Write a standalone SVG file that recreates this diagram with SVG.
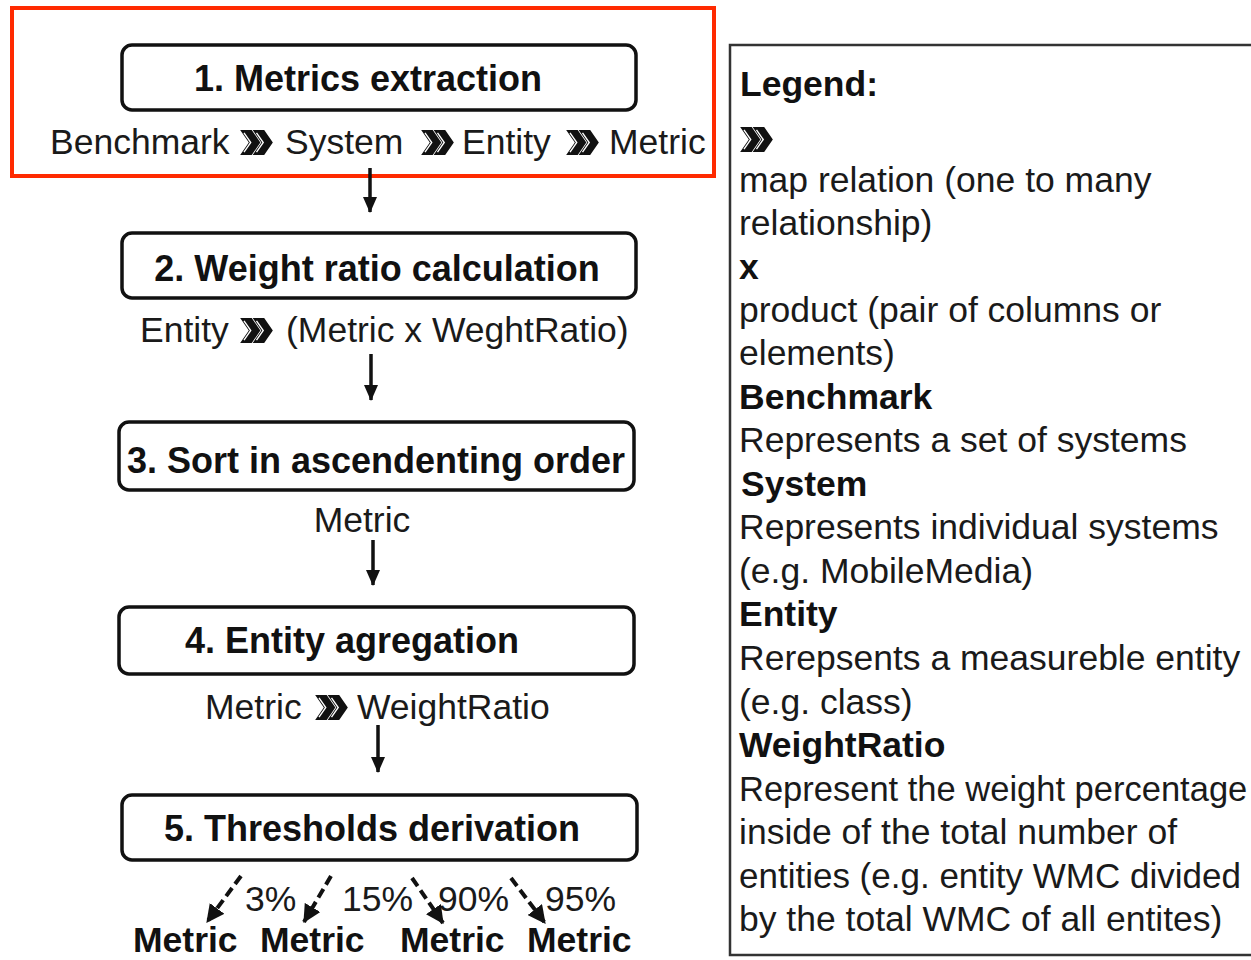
<svg xmlns="http://www.w3.org/2000/svg" xmlns:xlink="http://www.w3.org/1999/xlink" width="1251" height="960" viewBox="0 0 1251 960">
<style>
.box{fill:#fff;stroke:#111;stroke-width:3.5}
.title{font-family:"Liberation Sans",Arial,sans-serif;font-size:36px;font-weight:bold;fill:#111;text-anchor:middle}
.t{font-family:"Liberation Sans",Arial,sans-serif;font-size:35.5px;fill:#1a1a1a}
.b{font-family:"Liberation Sans",Arial,sans-serif;font-size:35.5px;font-weight:bold;fill:#111}
.arrow{stroke:#111;stroke-width:3.5;fill:none}
.dash{stroke:#111;stroke-width:4;fill:none;stroke-dasharray:10 5}
</style>
<defs>
<marker id="ah" viewBox="0 0 16 14" refX="15" refY="7" markerWidth="16" markerHeight="14" markerUnits="userSpaceOnUse" orient="auto">
<path d="M0,0 L16,7 L0,14 Z" fill="#111"/>
</marker>
<marker id="ahd" viewBox="0 0 16 16" refX="15" refY="8" markerWidth="18" markerHeight="18" markerUnits="userSpaceOnUse" orient="auto">
<path d="M0,0 L16,8 L0,16 Z" fill="#111"/>
</marker>
<symbol id="chev" viewBox="0 0 34 26">
<path d="M0,0 H12 L21,13 L12,26 H0 L9,13 Z M13,0 H25 L34,13 L25,26 H13 L22,13 Z" fill="#111"/>
<path d="M4,3 L11,13 L4,23 M17,3 L24,13 L17,23" stroke="#fff" stroke-width="1.4" fill="none"/>
</symbol>
</defs>
<rect x="0" y="0" width="1251" height="960" fill="#fff"/>

<g id="highlight">
<rect x="12" y="8" width="702" height="168" fill="none" stroke="#ff2a00" stroke-width="4"/>
</g>

<g id="step1">
<rect class="box" x="122" y="45" width="514" height="65" rx="10"/>
<text class="title" x="368" y="91">1. Metrics extraction</text>
<text class="t" x="50" y="154">Benchmark</text>
<use href="#chev" x="240" y="130" width="33" height="25"/>
<text class="t" x="285" y="154">System</text>
<use href="#chev" x="421" y="130" width="33" height="25"/>
<text class="t" x="462" y="154">Entity</text>
<use href="#chev" x="566" y="130" width="33" height="25"/>
<text class="t" x="609" y="154">Metric</text>
</g>

<g id="step2">
<rect class="box" x="122" y="233" width="514" height="65" rx="10"/>
<text class="title" x="377" y="281">2. Weight ratio calculation</text>
<text class="t" x="140" y="342">Entity</text>
<use href="#chev" x="240" y="318" width="33" height="25"/>
<text class="t" x="286" y="342">(Metric x WeghtRatio)</text>
</g>

<g id="step3">
<rect class="box" x="119" y="422" width="515" height="68" rx="10"/>
<text class="title" x="376" y="473">3. Sort in ascendenting order</text>
<text class="t" x="362" y="532" text-anchor="middle">Metric</text>
</g>

<g id="step4">
<rect class="box" x="119" y="607" width="515" height="67" rx="10"/>
<text class="title" x="352" y="653">4. Entity agregation</text>
<text class="t" x="205" y="719">Metric</text>
<use href="#chev" x="315" y="695" width="33" height="25"/>
<text class="t" x="357" y="719">WeightRatio</text>
</g>

<g id="step5">
<rect class="box" x="122" y="795" width="515" height="65" rx="10"/>
<text class="title" x="372" y="841">5. Thresholds derivation</text>
<text class="t" x="245" y="911">3%</text>
<text class="t" x="342" y="911">15%</text>
<text class="t" x="438" y="911">90%</text>
<text class="t" x="545" y="911">95%</text>
<text class="b" x="133" y="952">Metric</text>
<text class="b" x="260" y="952">Metric</text>
<text class="b" x="400" y="952">Metric</text>
<text class="b" x="527" y="952">Metric</text>
</g>

<g id="connectors">
<line class="arrow" x1="370" y1="168" x2="370" y2="212" marker-end="url(#ah)"/>
<line class="arrow" x1="371" y1="354" x2="371" y2="400" marker-end="url(#ah)"/>
<line class="arrow" x1="373" y1="540" x2="373" y2="585" marker-end="url(#ah)"/>
<line class="arrow" x1="378" y1="725" x2="378" y2="772" marker-end="url(#ah)"/>
<line class="dash" x1="241" y1="876" x2="207" y2="922" marker-end="url(#ahd)"/>
<line class="dash" x1="331" y1="876" x2="304" y2="922" marker-end="url(#ahd)"/>
<line class="dash" x1="412" y1="878" x2="443" y2="923" marker-end="url(#ahd)"/>
<line class="dash" x1="511" y1="878" x2="545" y2="923" marker-end="url(#ahd)"/>
</g>

<g id="legend">
<rect x="730" y="45" width="540" height="910" fill="none" stroke="#333" stroke-width="2.5"/>
<text class="b" x="740" y="96">Legend:</text>
<use href="#chev" x="740" y="127" width="33" height="25"/>
<text class="t" x="739" y="192">map relation (one to many</text>
<text class="t" x="739" y="235">relationship)</text>
<text class="b" x="739" y="279">x</text>
<text class="t" x="739" y="322">product (pair of columns or</text>
<text class="t" x="739" y="365">elements)</text>
<text class="b" x="739" y="409">Benchmark</text>
<text class="t" x="739" y="452">Represents a set of systems</text>
<text class="b" x="741" y="496">System</text>
<text class="t" x="739" y="539">Represents individual systems</text>
<text class="t" x="739" y="583">(e.g. MobileMedia)</text>
<text class="b" x="739" y="626">Entity</text>
<text class="t" x="739" y="670">Rerepsents a measureble entity</text>
<text class="t" x="739" y="714">(e.g. class)</text>
<text class="b" x="739" y="757">WeightRatio</text>
<text class="t" x="739" y="801" style="font-size:34.5px">Represent the weight percentage</text>
<text class="t" x="739" y="844">inside of the total number of</text>
<text class="t" x="739" y="888" style="font-size:35px">entities (e.g. entity WMC divided</text>
<text class="t" x="739" y="931">by the total WMC of all entites)</text>
</g>
</svg>
